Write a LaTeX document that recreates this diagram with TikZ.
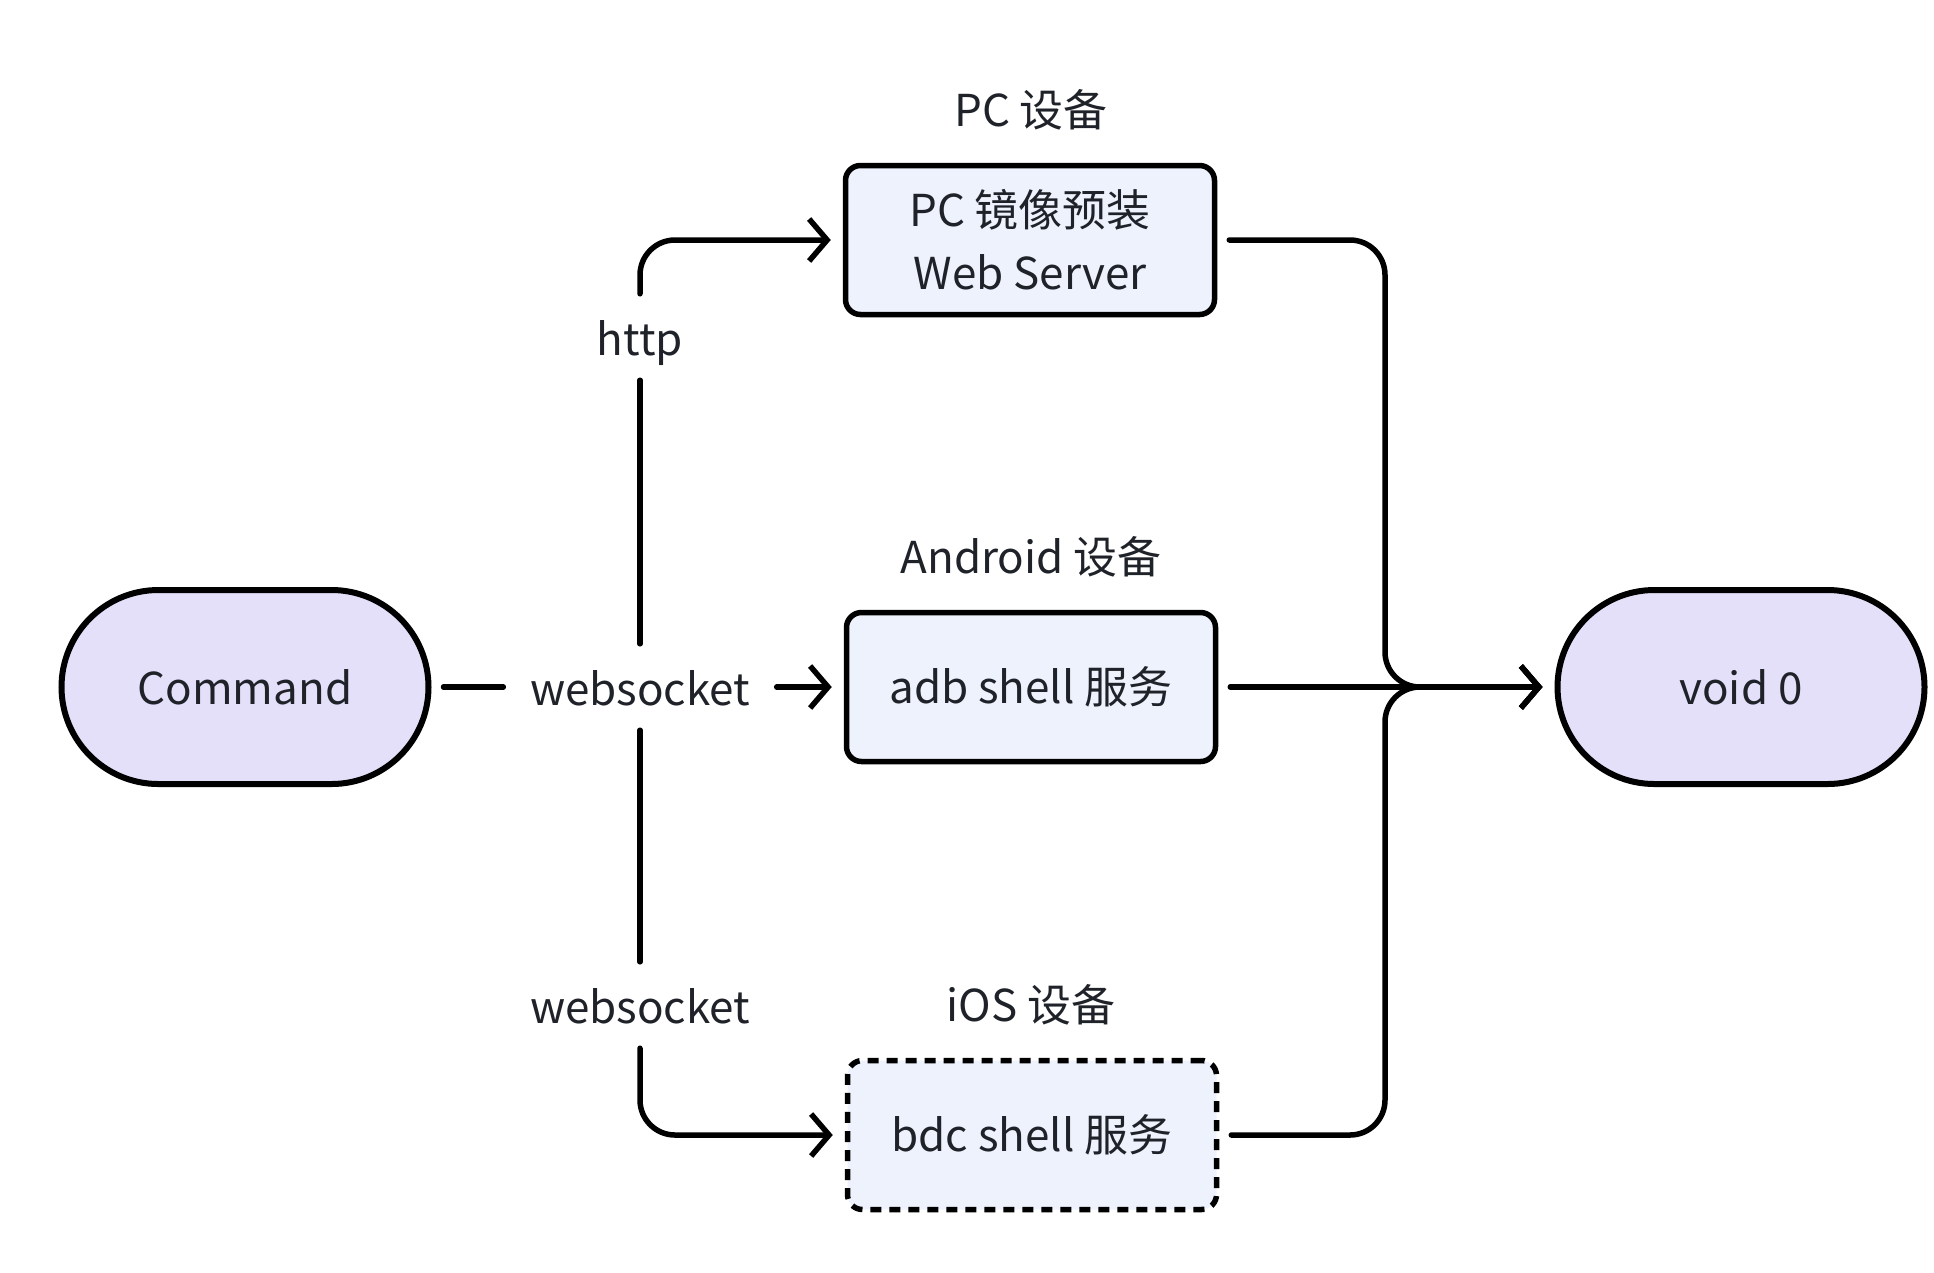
\documentclass[tikz,border=0pt]{standalone}
\usepackage{fontspec}
\setmainfont{Noto Sans CJK SC}
\usepackage{tikz}
\usetikzlibrary{arrows.meta,positioning}
\definecolor{lavender}{RGB}{229, 224, 250}
\definecolor{paleblue}{RGB}{238, 242, 253}
\definecolor{ink}{RGB}{31, 35, 41}

\begin{document}
\begin{tikzpicture}[
        font=\fontsize{12.5}{18}\selectfont,
        pill/.style={draw, line width=0.06cm, fill=lavender, rounded corners=0.97cm,
            minimum width=3.67cm, minimum height=1.94cm, text=ink},
        service/.style={draw, line width=0.055cm, fill=paleblue, rounded corners=0.15cm,
            minimum width=3.69cm, minimum height=1.49cm, align=center, text=ink},
        title/.style={text=ink},
        lbl/.style={fill=white, text=ink, inner xsep=0.26cm, inner ysep=0.2cm,
            text height=0.41cm, text depth=0.04cm},
        link/.style={line width=0.055cm, line cap=round, rounded corners=0.35cm},
        arrow/.style={link, -{Straight Barb[length=0.18cm, width=0.42cm]}, shorten >=0.12cm},
    ]
    \useasboundingbox (0,0) rectangle (19.34,-12.72);

    % Endpoints
    \node[pill] (cmd) at (2.45,-6.87) {Command};
    \node[pill] (void) at (17.41,-6.87) {void 0};

    % Devices and their services
    \node[title] (pctitle) at (10.31,-1.10) {PC 设备};
    \node[service] (pc) at (10.30,-2.40) {PC 镜像预装\\Web Server};
    \node[title] (androidtitle) at (10.31,-5.57) {Android 设备};
    \node[service] (adb) at (10.31,-6.87) {adb shell 服务};
    \node[title] (iostitle) at (10.31,-10.05) {iOS 设备};
    \node[service, dash pattern=on 0.11cm off 0.08cm] (bdc) at (10.32,-11.35) {bdc shell 服务};

    % Protocol labels on the fan-out
    \node[lbl] (ws) at (6.40,-6.87) {websocket};
    \node[lbl] (http) at (6.40,-3.37) {http};
    \node[lbl] (wsios) at (6.40,-10.05) {websocket};
    \coordinate (merge) at (13.85,-6.87);

    % Command to the devices
    \draw[link, shorten <=0.12cm] (cmd) -- (ws);
    \draw[arrow] (ws) -- (adb);
    \draw[link] (ws) -- (http);
    \draw[arrow] (http) |- (pc);
    \draw[link] (ws) -- (wsios);
    \draw[arrow] (wsios) |- (bdc);

    % Devices to void 0
    \draw[arrow, shorten <=0.12cm] (pc) -| (merge) -- (void);
    \draw[arrow, shorten <=0.12cm] (adb) -- (void);
    \draw[arrow, shorten <=0.12cm] (bdc) -| (merge) -- (void);
\end{tikzpicture}
\end{document}
